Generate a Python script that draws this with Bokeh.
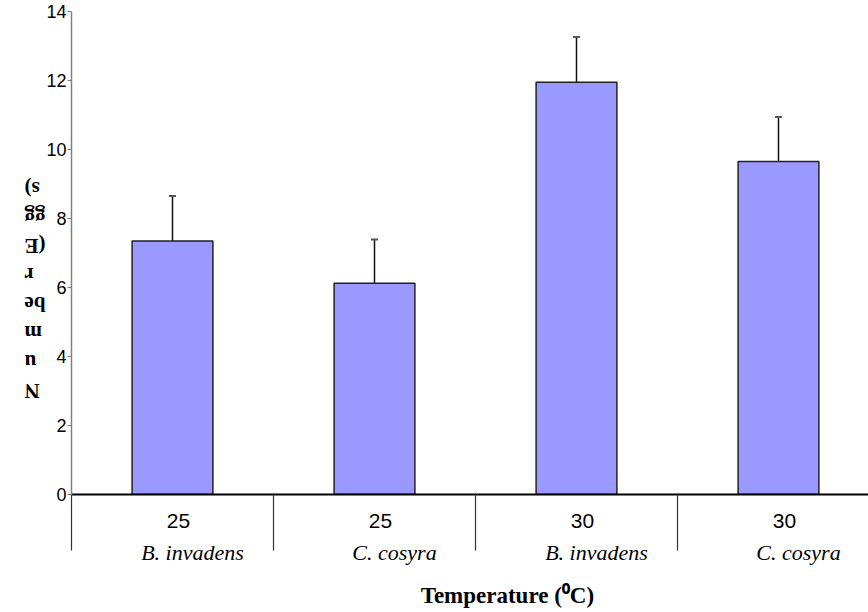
import math
from bokeh.plotting import figure
from bokeh.models import (Range1d, FixedTicker, LinearAxis, Whisker, TeeHead,
                          ColumnDataSource)
from bokeh.embed import file_html
from bokeh.resources import INLINE

# ---- data ----
temperatures = ["25", "25", "30", "30"]
species = ["B. invadens", "C. cosyra", "B. invadens", "C. cosyra"]
mean_eggs = [7.35, 6.12, 11.95, 9.65]
error_eggs = [1.30, 1.27, 1.31, 1.29]
y_ticks = [0, 2, 4, 6, 8, 10, 12, 14]
y_label_parts = ["N", "u", "m", "be", "r", "(E", "gg", "s)"]
x_title = "Temperature (\u2070C)"

# ---- layout constants (pixels) ----
W, H = 868, 612
LEFT, TOP, BOTTOM_Y = 71, 11, 494
CAT_PX = 202.0
Y_MAX = 14.0
PX_PER_Y = (BOTTOM_Y - TOP) / Y_MAX
TITLE_SHIFT = 13       # non-breaking spaces that push the centred title right
TEMP_DX, SPEC_DX = 6, 20   # label offsets (px) to the right of category centres

xs = [i + 0.5 for i in range(len(temperatures))]
bounds = [float(i) for i in range(len(temperatures))]
upper = [m + e for m, e in zip(mean_eggs, error_eggs)]
src = ColumnDataSource(dict(x=xs, top=mean_eggs, upper=upper))

x_end = (W - LEFT) / CAT_PX

p = figure(width=W, height=H, output_backend="svg", toolbar_location=None,
           x_range=Range1d(0, x_end), y_range=Range1d(0, Y_MAX),
           min_border_left=LEFT, min_border_right=0, min_border_top=TOP,
           min_border_bottom=H - BOTTOM_Y)
p.outline_line_color = None
p.background_fill_color = "white"
p.border_fill_color = "white"
p.xgrid.visible = False
p.ygrid.visible = False

# bars
p.vbar(x="x", top="top", bottom=0, width=0.4, source=src,
       fill_color="#9999ff", line_color="#222222", line_width=1.5)

# upper error bars
p.add_layout(Whisker(source=src, base="x", upper="upper", lower="top",
                     dimension="height", line_color="#111111", line_width=1.5,
                     upper_head=TeeHead(size=7, line_color="#555555", line_width=2),
                     lower_head=None))

# y axis
ya = p.yaxis[0]
ya.ticker = FixedTicker(ticks=y_ticks)
ya.axis_line_color = "#808080"
ya.axis_line_width = 1.5
ya.major_tick_out = 4
ya.major_tick_in = 0
ya.major_tick_line_color = "#808080"
ya.minor_tick_line_color = None
ya.major_label_text_font = "Liberation Sans"
ya.major_label_text_font_size = "18px"
ya.major_label_text_color = "black"
ya.major_label_standoff = 1

# y-axis title: text wrapped into short pieces and turned upside down,
# shown as the labels of a second, line-less left axis
first_base, last_base = 383.0, 181.0
step = (first_base - last_base) / (len(y_label_parts) - 1)
part_pos = [round((BOTTOM_Y - (first_base - i * step + 7.0)) / PX_PER_Y, 4)
            for i in range(len(y_label_parts))]
ya2 = LinearAxis(ticker=FixedTicker(ticks=part_pos),
                 major_label_overrides={v: t for v, t in zip(part_pos, y_label_parts)},
                 major_label_orientation=math.pi)
ya2.axis_line_color = None
ya2.major_tick_line_color = None
ya2.minor_tick_line_color = None
ya2.major_tick_out = 0
ya2.major_tick_in = 0
ya2.minor_tick_out = 0
ya2.minor_tick_in = 0
ya2.major_label_text_font = "Liberation Serif"
ya2.major_label_text_font_style = "bold"
ya2.major_label_text_font_size = "21px"
ya2.major_label_text_color = "black"
ya2.major_label_standoff = 19
p.add_layout(ya2, "left")

# x axis 1: temperatures
temp_pos = [round(x + TEMP_DX / CAT_PX, 4) for x in xs]
xa = p.xaxis[0]
xa.ticker = FixedTicker(ticks=temp_pos)
xa.axis_line_color = "black"
xa.axis_line_width = 2
xa.major_tick_out = 0
xa.major_tick_in = 0
xa.minor_tick_out = 0
xa.minor_tick_in = 0
xa.major_tick_line_color = None
xa.minor_tick_line_color = None
xa.major_label_overrides = {x: t for x, t in zip(temp_pos, temperatures)}
xa.major_label_text_font = "Liberation Sans"
xa.major_label_text_font_size = "21px"
xa.major_label_text_color = "black"
xa.major_label_standoff = 19

# x axis 2: species (italic) + category separators (minor ticks reaching up)
spec_pos = [round(x + SPEC_DX / CAT_PX, 4) for x in xs]
xa2 = LinearAxis(ticker=FixedTicker(ticks=spec_pos, minor_ticks=bounds),
                 major_label_overrides={x: s for x, s in zip(spec_pos, species)})
xa2.axis_line_color = None
xa2.major_tick_line_color = None
xa2.major_tick_out = 0
xa2.major_tick_in = 0
xa2.minor_tick_in = 37
xa2.minor_tick_out = 20
xa2.minor_tick_line_color = "#333333"
xa2.minor_tick_line_width = 1.2
xa2.major_label_text_font = "Liberation Serif"
xa2.major_label_text_font_style = "italic"
xa2.major_label_text_font_size = "22px"
xa2.major_label_text_color = "black"
xa2.major_label_standoff = -11
p.add_layout(xa2, "below")

# x axis 3: only carries the axis title
xa3 = LinearAxis(ticker=FixedTicker(ticks=[]),
                 axis_label="\u00a0" * TITLE_SHIFT + x_title)
xa3.axis_line_color = None
xa3.major_tick_line_color = None
xa3.minor_tick_line_color = None
xa3.major_tick_out = 0
xa3.major_tick_in = 0
xa3.minor_tick_out = 0
xa3.minor_tick_in = 0
xa3.major_label_standoff = 0
xa3.axis_label_standoff = 15
xa3.axis_label_text_font = "Liberation Serif"
xa3.axis_label_text_font_style = "bold"
xa3.axis_label_text_font_size = "23px"
xa3.axis_label_text_color = "black"
p.add_layout(xa3, "below")

open("out.html", "w").write(file_html(p, INLINE))
